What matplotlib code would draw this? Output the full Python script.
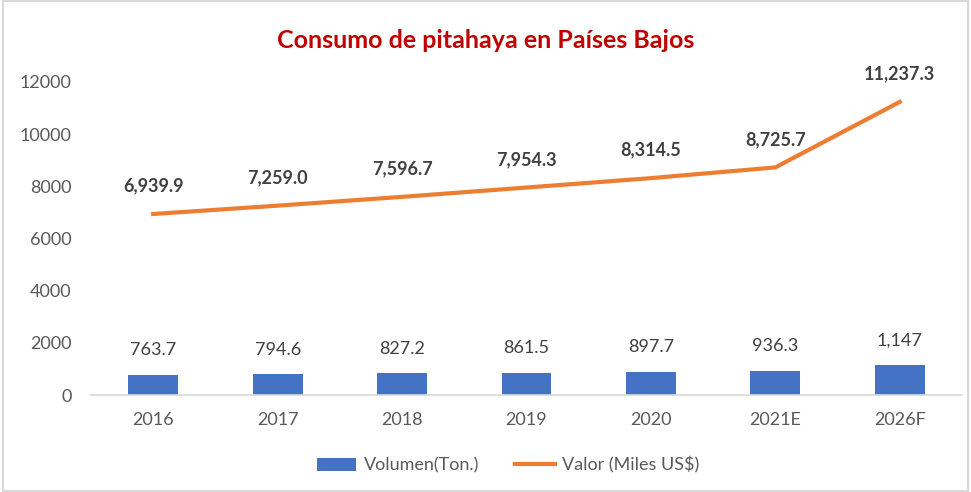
import matplotlib
matplotlib.use("Agg")
import matplotlib.pyplot as plt
import numpy as np

years = ["2016", "2017", "2018", "2019", "2020", "2021E", "2026F"]
volumen = [763.7, 794.6, 827.2, 861.5, 897.7, 936.3, 1147]
volumen_labels = ["763.7", "794.6", "827.2", "861.5", "897.7", "936.3", "1,147"]
valor = [6939.9, 7259.0, 7596.7, 7954.3, 8314.5, 8725.7, 11237.3]

plt.rcParams["font.family"] = ["Lato", "DejaVu Sans"]

fig = plt.figure(figsize=(9.71, 4.92), dpi=100)
ax = fig.add_axes([91 / 971, 1 - 395 / 492, (962 - 91) / 971, (395 - 82) / 492])

x = np.arange(len(years))
bars = ax.bar(x, volumen, width=0.4, color="#4472C4", label="Volumen(Ton.)", zorder=2)
line, = ax.plot(x, valor, color="#ED7D31", linewidth=3, label="Valor (Miles US$)", zorder=3)

for xi, v, lab in zip(x, volumen, volumen_labels):
    ax.annotate(lab, (xi, v), xytext=(0, 12), textcoords="offset points",
                ha="center", va="bottom", fontsize=13, color="#404040")
for xi, v in zip(x, valor):
    ax.annotate(f"{v:,.1f}", (xi, v), xytext=(0, 14), textcoords="offset points",
                ha="center", va="bottom", fontsize=13, fontweight="bold", color="#404040")

ax.set_xlim(-0.5, len(years) - 0.5)
ax.set_ylim(0, 12000)
ax.set_yticks(range(0, 12001, 2000))
ax.set_xticks(x)
ax.set_xticklabels(years)
ax.tick_params(axis="both", length=0, labelsize=13, labelcolor="#595959")
ax.tick_params(axis="x", pad=12)
ax.tick_params(axis="y", pad=14)
for s in ["top", "right", "left"]:
    ax.spines[s].set_visible(False)
ax.spines["bottom"].set_color("#D9D9D9")
ax.spines["bottom"].set_linewidth(1.2)

fig.text(0.5, 1 - 40 / 492, "Consumo de pitahaya en Países Bajos", ha="center", va="center",
         fontsize=18, fontweight="bold", color="#C00000")

fig.legend([bars, line], ["Volumen(Ton.)", "Valor (Miles US$)"], loc="center",
           bbox_to_anchor=(508 / 971, 1 - 465 / 492), ncol=2, frameon=False,
           fontsize=13, labelcolor="#595959", handlelength=2.2, handletextpad=0.4,
           columnspacing=2.0)

fig.patches.append(plt.Rectangle((0.003, 0.003), 0.994, 0.994, transform=fig.transFigure,
                                 fill=False, edgecolor="#D9D9D9", linewidth=1.5))

fig.savefig("out.png", dpi=100)
